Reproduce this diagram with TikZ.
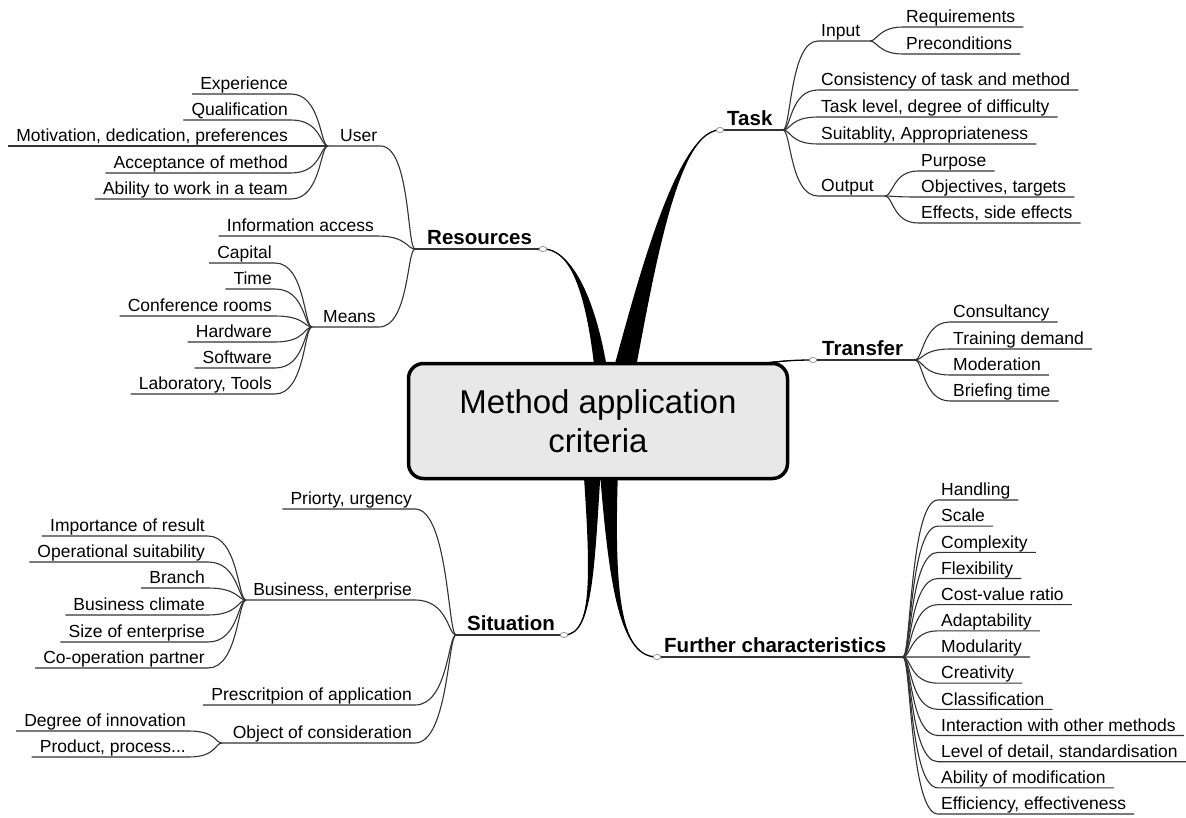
\documentclass[tikz,border=0pt]{standalone}
\usepackage{fontspec}
\setmainfont{Liberation Sans}
\usetikzlibrary{shapes.geometric}

\begin{document}
\begin{tikzpicture}[x=1pt,y=-1pt,
    leaf/.style={inner xsep=3pt,inner ysep=0pt,text depth=4pt,font=\fontsize{17.5}{20}\selectfont},
    stem/.style={leaf,font=\fontsize{20.5}{24}\selectfont\bfseries},
    twig/.style={line width=1.1pt,black!80},
    limb/.style={fill=black},
    limbline/.style={line width=1.3pt,black},
    knob/.style={ellipse,draw=black!55,fill=white,line width=0.6pt,minimum width=8pt,minimum height=5pt,inner sep=0pt},
    root/.style={draw,line width=3.5pt,rounded corners=15pt,fill=black!9,minimum width=379pt,minimum height=115pt,align=center,font=\fontsize{33}{39}\selectfont}]
\useasboundingbox (0,0) rectangle (1186,818);

% hubs and knobs
\coordinate (hub) at (598,421);
\coordinate (resK) at (543,249);   \coordinate (resH) at (415,249);
\coordinate (userH) at (328,146);  \coordinate (meansH) at (312,327);
\coordinate (taskK) at (720,130);  \coordinate (taskH) at (783,130);
\coordinate (inputH) at (870,41);  \coordinate (outH) at (885,196);
\coordinate (transK) at (813,360); \coordinate (transH) at (915,360);
\coordinate (sitK) at (564,635);   \coordinate (sitH) at (456,635);
\coordinate (busH) at (246,600);   \coordinate (objH) at (222,743);
\coordinate (furK) at (657,657);   \coordinate (furH) at (903,657);

% thick limbs out of the centre
\fill[limb] (599,421) .. controls (626,330) and (670,130) .. (taskK) .. controls (670,130) and (646,330) .. (625,421) -- cycle;
\draw[limbline] (612,421) .. controls (636,330) and (670,130) .. (taskK);
\fill[limb] (599,421) .. controls (593,330) and (580,249) .. (resK) .. controls (580,249) and (607,330) .. (613,421) -- cycle;
\draw[limbline] (606,421) .. controls (600,330) and (580,249) .. (resK);
\fill[limb] (640,407) .. controls (720,362) and (770,360) .. (transK) .. controls (770,360) and (720,368) .. (640,423) -- cycle;
\draw[limbline] (640,415) .. controls (720,365) and (770,360) .. (transK);
\fill[limb] (580,421) .. controls (590,560) and (596,635) .. (sitK) .. controls (596,635) and (594,560) .. (604,421) -- cycle;
\draw[limbline] (592,421) .. controls (592,560) and (596,635) .. (sitK);
\fill[limb] (596,421) .. controls (607,570) and (615,657) .. (furK) .. controls (615,657) and (613,570) .. (620,421) -- cycle;
\draw[limbline] (608,421) .. controls (610,570) and (615,657) .. (furK);

\node[root] (root) at (hub) {Method application\\criteria};

% Resources
\node[stem,anchor=south west] (res) at (424,249) {Resources};
\draw[twig] (resH) -- (resK);
\node[leaf,anchor=south west] (user) at (337,146) {User};
\draw[twig] (userH) -- (user.south east) .. controls +(30,0) and +(-8,0) .. (resH);
\foreach \t/\y [count=\i] in {Experience/94,Qualification/120,{Motivation, dedication, preferences}/146,Acceptance of method/173,Ability to work in a team/199}{
  \node[leaf,anchor=south east] (u\i) at (291,\y) {\t};
  \draw[twig] ([xshift=-5pt]u\i.south west) -- (u\i.south east) .. controls +(30,0) and +(-8,0) .. (userH);}
\node[leaf,anchor=south east] (info) at (377,236) {Information access};
\draw[twig] ([xshift=-5pt]info.south west) -- (info.south east) .. controls +(30,0) and +(-8,0) .. (resH);
\node[leaf,anchor=south west] (means) at (320,327) {Means};
\draw[twig] (meansH) -- (means.south east) .. controls +(30,0) and +(-8,0) .. (resH);
\foreach \t/\y [count=\i] in {Capital/263,Time/289,Conference rooms/316,Hardware/342,Software/368,{Laboratory, Tools}/394}{
  \node[leaf,anchor=south east] (m\i) at (275,\y) {\t};
  \draw[twig] ([xshift=-5pt]m\i.south west) -- (m\i.south east) .. controls +(30,0) and +(-8,0) .. (meansH);}

% Task
\node[stem,anchor=south west] (task) at (724,130) {Task};
\draw[twig] (taskK) -- (taskH);
\node[leaf,anchor=south west] (input) at (818,41) {Input};
\draw[twig] (taskH) .. controls +(8,0) and +(-28,0) .. (input.south west) -- (inputH);
\foreach \t/\y [count=\i] in {Requirements/27,Preconditions/54}{
  \node[leaf,anchor=south west] (in\i) at (903,\y) {\t};
  \draw[twig] (inputH) .. controls +(7,0) and +(-24,0) .. (in\i.south west) -- ([xshift=5pt]in\i.south east);}
\foreach \t/\y [count=\i] in {Consistency of task and method/90,{Task level, degree of difficulty}/117,{Suitablity, Appropriateness}/144}{
  \node[leaf,anchor=south west] (t\i) at (818,\y) {\t};
  \draw[twig] (taskH) .. controls +(8,0) and +(-28,0) .. (t\i.south west) -- ([xshift=5pt]t\i.south east);}
\node[leaf,anchor=south west] (output) at (818,196) {Output};
\draw[twig] (taskH) .. controls +(8,0) and +(-28,0) .. (output.south west) -- (outH);
\foreach \t/\y [count=\i] in {Purpose/171,{Objectives, targets}/197,{Effects, side effects}/223}{
  \node[leaf,anchor=south west] (o\i) at (918,\y) {\t};
  \draw[twig] (outH) .. controls +(8,0) and +(-25,0) .. (o\i.south west) -- ([xshift=5pt]o\i.south east);}

% Transfer
\node[stem,anchor=south west] (transfer) at (819,360) {Transfer};
\draw[twig] (transK) -- (transH);
\foreach \t/\y [count=\i] in {Consultancy/322,Training demand/349,Moderation/375,Briefing time/401}{
  \node[leaf,anchor=south west] (tr\i) at (950,\y) {\t};
  \draw[twig] (transH) .. controls +(8,0) and +(-27,0) .. (tr\i.south west) -- ([xshift=5pt]tr\i.south east);}

% Situation
\node[stem,anchor=south west] (situation) at (464,635) {Situation};
\draw[twig] (sitH) -- (sitK);
\node[leaf,anchor=south east] (prio) at (415,509) {Priorty, urgency};
\draw[twig] ([xshift=-5pt]prio.south west) -- (prio.south east) .. controls +(33,0) and +(-8,0) .. (sitH);
\node[leaf,anchor=south east] (business) at (415,600) {Business, enterprise};
\draw[twig] (busH) -- (business.south east) .. controls +(33,0) and +(-8,0) .. (sitH);
\foreach \t/\y [count=\i] in {Importance of result/536,Operational suitability/562,Branch/588,Business climate/615,Size of enterprise/642,Co-operation partner/668}{
  \node[leaf,anchor=south east] (b\i) at (208,\y) {\t};
  \draw[twig] ([xshift=-5pt]b\i.south west) -- (b\i.south east) .. controls +(30,0) and +(-8,0) .. (busH);}
\node[leaf,anchor=south east] (presc) at (415,705) {Prescritpion of application};
\draw[twig] ([xshift=-5pt]presc.south west) -- (presc.south east) .. controls +(33,0) and +(-8,0) .. (sitH);
\node[leaf,anchor=south east] (object) at (415,743) {Object of consideration};
\draw[twig] (objH) -- (object.south east) .. controls +(33,0) and +(-8,0) .. (sitH);
\foreach \t/\y [count=\i] in {Degree of innovation/731,{Product, process...}/757}{
  \node[leaf,anchor=south east] (ob\i) at (189,\y) {\t};
  \draw[twig] ([xshift=-5pt]ob\i.south west) -- (ob\i.south east) .. controls +(27,0) and +(-7,0) .. (objH);}

% Further characteristics
\node[stem,anchor=south west] (further) at (661,657) {Further characteristics};
\draw[twig] (furK) -- (furH);
\foreach \t [count=\i from 0] in {Handling,Scale,Complexity,Flexibility,Cost-value ratio,Adaptability,Modularity,Creativity,Classification,Interaction with other methods,{Level of detail, standardisation},Ability of modification,{Efficiency, effectiveness}}{
  \pgfmathsetmacro{\y}{500+26.17*\i}
  \node[leaf,anchor=south west] (f\i) at (938,\y) {\t};
  \draw[twig] (furH) .. controls +(8,0) and +(-28,0) .. (f\i.south west) -- ([xshift=5pt]f\i.south east);}

% knobs on top
\foreach \k in {resK,taskK,transK,sitK,furK}{\node[knob] (k-\k) at (\k) {};}
\end{tikzpicture}
\end{document}
